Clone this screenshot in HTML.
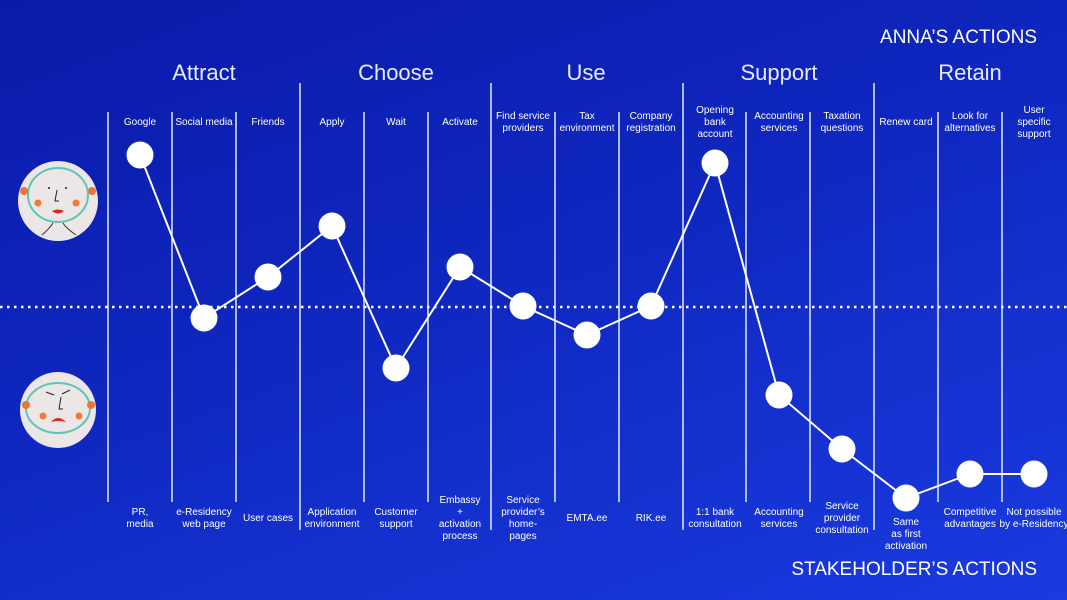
<!DOCTYPE html>
<html><head><meta charset="utf-8"><style>
html,body{margin:0;padding:0;}
body{width:1067px;height:600px;overflow:hidden;background:linear-gradient(160deg,#0a1aa8 0%,#0f27c0 45%,#1a3be0 100%);font-family:"Liberation Sans",sans-serif;}
svg{display:block}
text{fill:#fff;font-family:"Liberation Sans",sans-serif;}
.s{font-size:10px;text-anchor:middle}
.h{font-size:22px;text-anchor:middle;fill:#e8ecff}
</style></head><body>
<svg width="1067" height="600" viewBox="0 0 1067 600">
<text x="1037" y="43" font-size="19" text-anchor="end">ANNA’S ACTIONS</text>
<text x="1037" y="575" font-size="19" text-anchor="end">STAKEHOLDER’S ACTIONS</text>
<text class="h" x="204" y="80">Attract</text>
<text class="h" x="396" y="80">Choose</text>
<text class="h" x="586" y="80">Use</text>
<text class="h" x="779" y="80">Support</text>
<text class="h" x="970" y="80">Retain</text>
<g stroke="#e6eaff" stroke-width="1.5">
<line x1="108" y1="112" x2="108" y2="502"/><line x1="172" y1="112" x2="172" y2="502"/><line x1="236" y1="112" x2="236" y2="502"/>
<line x1="300" y1="83" x2="300" y2="530"/>
<line x1="364" y1="112" x2="364" y2="502"/><line x1="428" y1="112" x2="428" y2="502"/>
<line x1="491" y1="83" x2="491" y2="530"/>
<line x1="555" y1="112" x2="555" y2="502"/><line x1="619" y1="112" x2="619" y2="502"/>
<line x1="683" y1="83" x2="683" y2="530"/>
<line x1="746" y1="112" x2="746" y2="502"/><line x1="810" y1="112" x2="810" y2="502"/>
<line x1="874" y1="83" x2="874" y2="530"/>
<line x1="938" y1="112" x2="938" y2="502"/><line x1="1002" y1="112" x2="1002" y2="502"/>
</g>
<line x1="0" y1="307" x2="1067" y2="307" stroke="#fff" stroke-width="2.5" stroke-dasharray="2.5 4.5"/>
<g class="s">
<text class="s" x="140" y="125">Google</text>
<text class="s" x="204" y="125">Social media</text>
<text class="s" x="268" y="125">Friends</text>
<text class="s" x="332" y="125">Apply</text>
<text class="s" x="396" y="125">Wait</text>
<text class="s" x="460" y="125">Activate</text>
<text class="s" x="523" y="119">Find service</text><text class="s" x="523" y="131">providers</text>
<text class="s" x="587" y="119">Tax</text><text class="s" x="587" y="131">environment</text>
<text class="s" x="651" y="119">Company</text><text class="s" x="651" y="131">registration</text>
<text class="s" x="715" y="113">Opening</text><text class="s" x="715" y="125">bank</text><text class="s" x="715" y="137">account</text>
<text class="s" x="779" y="119">Accounting</text><text class="s" x="779" y="131">services</text>
<text class="s" x="842" y="119">Taxation</text><text class="s" x="842" y="131">questions</text>
<text class="s" x="906" y="125">Renew card</text>
<text class="s" x="970" y="119">Look for</text><text class="s" x="970" y="131">alternatives</text>
<text class="s" x="1034" y="113">User</text><text class="s" x="1034" y="125">specific</text><text class="s" x="1034" y="137">support</text>

<text class="s" x="140" y="515">PR,</text><text class="s" x="140" y="527">media</text>
<text class="s" x="204" y="515">e-Residency</text><text class="s" x="204" y="527">web page</text>
<text class="s" x="268" y="521">User cases</text>
<text class="s" x="332" y="515">Application</text><text class="s" x="332" y="527">environment</text>
<text class="s" x="396" y="515">Customer</text><text class="s" x="396" y="527">support</text>
<text class="s" x="460" y="503">Embassy</text><text class="s" x="460" y="515">+</text><text class="s" x="460" y="527">activation</text><text class="s" x="460" y="539">process</text>
<text class="s" x="523" y="503">Service</text><text class="s" x="523" y="515">provider’s</text><text class="s" x="523" y="527">home-</text><text class="s" x="523" y="539">pages</text>
<text class="s" x="587" y="521">EMTA.ee</text>
<text class="s" x="651" y="521">RIK.ee</text>
<text class="s" x="715" y="515">1:1 bank</text><text class="s" x="715" y="527">consultation</text>
<text class="s" x="779" y="515">Accounting</text><text class="s" x="779" y="527">services</text>
<text class="s" x="842" y="509">Service</text><text class="s" x="842" y="521">provider</text><text class="s" x="842" y="533">consultation</text>
<text class="s" x="906" y="525">Same</text><text class="s" x="906" y="537">as first</text><text class="s" x="906" y="549">activation</text>
<text class="s" x="970" y="515">Competitive</text><text class="s" x="970" y="527">advantages</text>
<text class="s" x="1034" y="515">Not possible</text><text class="s" x="1034" y="527">by e-Residency</text>
</g>
<polyline fill="none" stroke="#fff" stroke-width="2" points="140,155 204,318 268,277 332,226 396,368 460,267 523,306 587,335 651,306 715,163 779,395 842,449 906,498 970,474 1034,474"/>
<g fill="#fff">
<circle cx="140" cy="155" r="13.5"/><circle cx="204" cy="318" r="13.5"/><circle cx="268" cy="277" r="13.5"/><circle cx="332" cy="226" r="13.5"/><circle cx="396" cy="368" r="13.5"/><circle cx="460" cy="267" r="13.5"/><circle cx="523" cy="306" r="13.5"/><circle cx="587" cy="335" r="13.5"/><circle cx="651" cy="306" r="13.5"/><circle cx="715" cy="163" r="13.5"/><circle cx="779" cy="395" r="13.5"/><circle cx="842" cy="449" r="13.5"/><circle cx="906" cy="498" r="13.5"/><circle cx="970" cy="474" r="13.5"/><circle cx="1034" cy="474" r="13.5"/>
</g>
<!-- faces -->
<g>
<circle cx="58" cy="201" r="40" fill="#ede6e6"/>
<ellipse cx="58" cy="195" rx="30" ry="27" fill="none" stroke="#5cc6b8" stroke-width="2"/>
<circle cx="38" cy="203" r="3.5" fill="#f07a3a"/><circle cx="76" cy="203" r="3.5" fill="#f07a3a"/>
<circle cx="24" cy="191" r="4" fill="#e8743a"/><circle cx="92" cy="191" r="4" fill="#e8743a"/>
<path d="M52 211 Q58 216 64 211 Q58 208 52 211" fill="#d42a1a"/>
<path d="M57 190 L55 201 L59 201" fill="none" stroke="#222" stroke-width="1"/>
<circle cx="49" cy="188" r="1" fill="#222"/><circle cx="66" cy="188" r="1" fill="#222"/>
<path d="M42 235 Q50 228 53 223 M63 223 Q66 228 76 235" fill="none" stroke="#333" stroke-width="1"/>
<circle cx="58" cy="410" r="38" fill="#ede6e6"/>
<ellipse cx="58" cy="408" rx="32" ry="25" fill="none" stroke="#5cc6b8" stroke-width="2"/>
<circle cx="43" cy="416" r="3.5" fill="#f07a3a"/><circle cx="79" cy="416" r="3.5" fill="#f07a3a"/>
<circle cx="26" cy="405" r="4" fill="#e8743a"/><circle cx="91" cy="405" r="4" fill="#e8743a"/>
<path d="M51 422 Q58 414 66 422 Q58 420 51 422" fill="#d42a1a"/>
<path d="M61 397 L59 409 L63 409" fill="none" stroke="#222" stroke-width="1"/>
<path d="M46 392 L54 395 M62 394 L70 390" stroke="#222" stroke-width="1"/>
</g>
</svg>
</body></html>
